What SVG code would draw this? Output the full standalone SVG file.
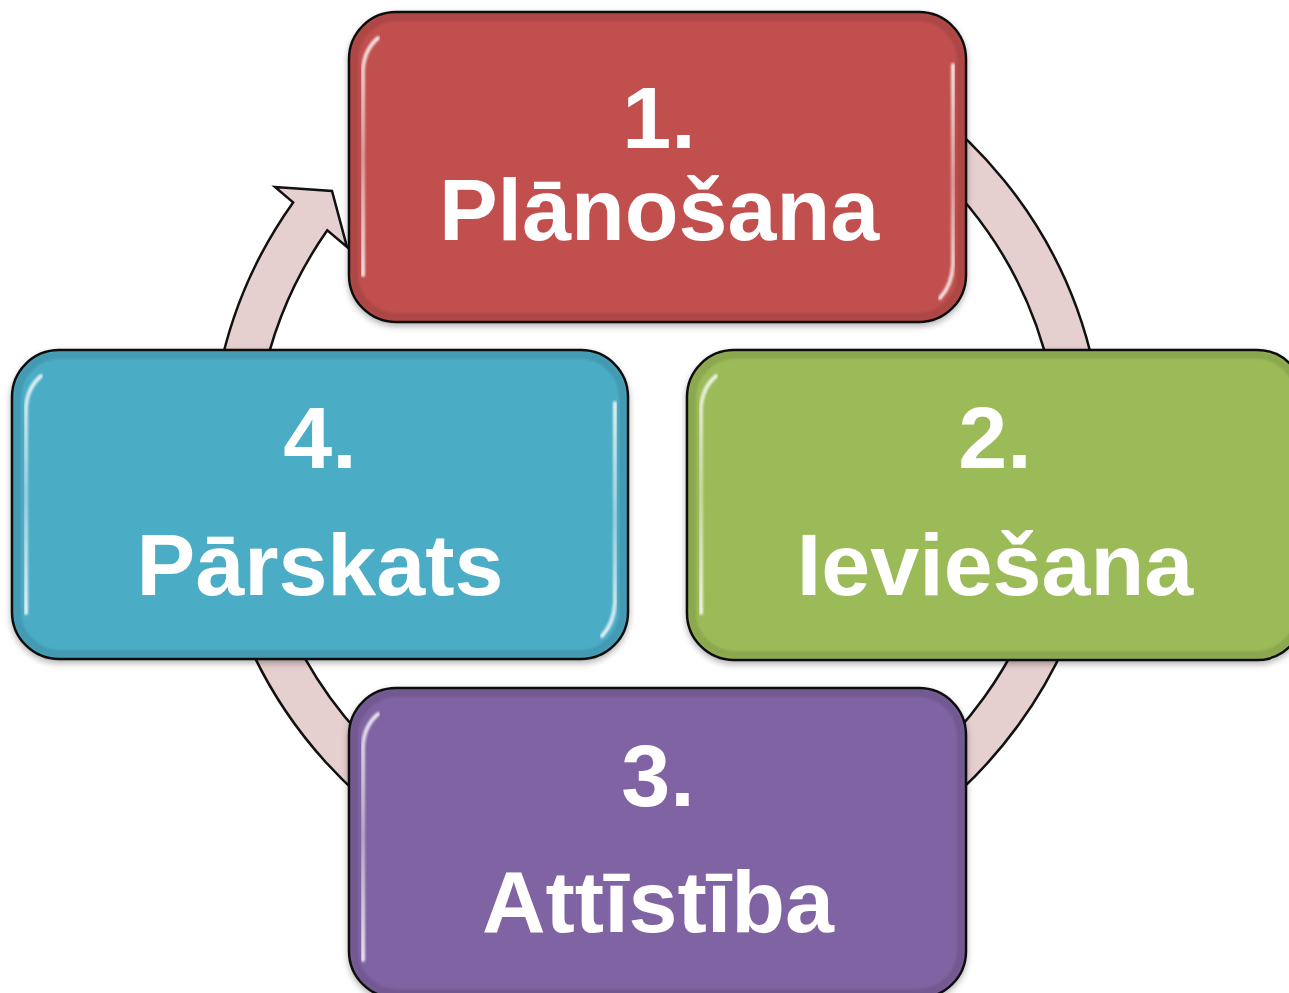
<svg xmlns="http://www.w3.org/2000/svg" width="1289" height="993" viewBox="0 0 1289 993">
  <defs>
    <filter id="shadow" x="-5%" y="-5%" width="110%" height="115%">
      <feDropShadow dx="0" dy="3" stdDeviation="3" flood-color="#000" flood-opacity="0.3"/>
    </filter>
    <filter id="soft" x="-10%" y="-10%" width="120%" height="120%">
      <feGaussianBlur stdDeviation="1.2"/>
    </filter>
    <linearGradient id="hlv" x1="0" y1="0" x2="0" y2="1">
      <stop offset="0" stop-color="#fff" stop-opacity="0.85"/>
      <stop offset="0.5" stop-color="#fff" stop-opacity="0.45"/>
      <stop offset="1" stop-color="#fff" stop-opacity="0.85"/>
    </linearGradient>
  </defs>
  <style>
    .box { stroke: #111; stroke-width: 2.5; }
    .edge { fill: none; stroke: #000; stroke-opacity: 0.1; stroke-width: 8; }
    .hl { fill: none; stroke: url(#hlv); stroke-width: 4; stroke-linecap: round; }
    .lbl { font-family: "Liberation Sans", Arial, sans-serif; font-weight: bold; font-size: 88px; fill: #fff; text-anchor: middle; }
    .ring { fill: #E6CFCF; stroke: #111; stroke-width: 2.5; stroke-linejoin: miter; }
  </style>

  <g id="connectors">
    <path class="ring" d="M 657,15 A 447,447 0 1,1 293.1,202.4 L 275,187 L 332,191 L 347,247 L 327.3,230.3 A 403,403 0 1,0 657,59 Z"/>
  </g>

  <g id="node1">
    <rect class="box" x="349" y="12" width="617" height="310" rx="47" ry="47" fill="#C0504D" filter="url(#shadow)"/>
    <rect class="edge" x="354" y="17" width="607" height="300" rx="43" ry="43" filter="url(#soft)"/>
    <path class="hl" filter="url(#soft)" d="M 363,275 L 363,70 Q 364,50 378,38"/>
    <path class="hl" filter="url(#soft)" d="M 953,65 L 953,265 Q 952,285 940,298"/>
    <text class="lbl" x="659" y="148">1.</text>
    <text class="lbl" x="659" y="240">Plānošana</text>
  </g>

  <g id="node2">
    <rect class="box" x="687" y="350" width="617" height="310" rx="47" ry="47" fill="#9BBB59" filter="url(#shadow)"/>
    <rect class="edge" x="692" y="355" width="607" height="300" rx="43" ry="43" filter="url(#soft)"/>
    <path class="hl" filter="url(#soft)" d="M 701,613 L 701,408 Q 702,388 716,376"/>
    <text class="lbl" x="995" y="468">2.</text>
    <text class="lbl" x="995" y="595">Ieviešana</text>
  </g>

  <g id="node3">
    <rect class="box" x="349" y="688" width="617" height="310" rx="47" ry="47" fill="#8064A2" filter="url(#shadow)"/>
    <rect class="edge" x="354" y="693" width="607" height="300" rx="43" ry="43" filter="url(#soft)"/>
    <path class="hl" filter="url(#soft)" d="M 363,960 L 363,746 Q 364,726 378,714"/>
    <path class="hl" filter="url(#soft)" d="M 953,741 L 953,960"/>
    <text class="lbl" x="658" y="806">3.</text>
    <text class="lbl" x="658" y="932">Attīstība</text>
  </g>

  <g id="node4">
    <rect class="box" x="12" y="350" width="616" height="309" rx="47" ry="47" fill="#4BACC6" filter="url(#shadow)"/>
    <rect class="edge" x="17" y="355" width="606" height="299" rx="43" ry="43" filter="url(#soft)"/>
    <path class="hl" filter="url(#soft)" d="M 26,613 L 26,408 Q 27,388 41,376"/>
    <path class="hl" filter="url(#soft)" d="M 615,403 L 615,603 Q 614,623 602,636"/>
    <text class="lbl" x="320" y="468">4.</text>
    <text class="lbl" x="320" y="595">Pārskats</text>
  </g>
</svg>
